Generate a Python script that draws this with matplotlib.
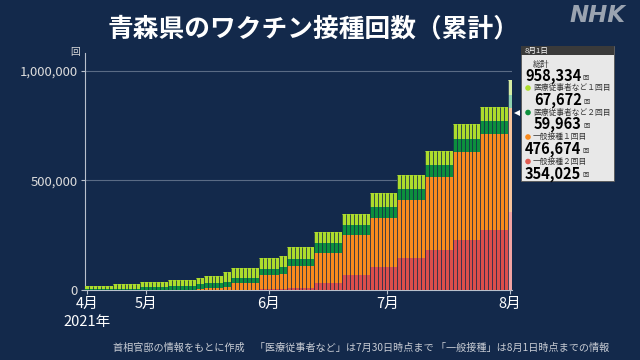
import numpy as np
import pandas as pd
import matplotlib
matplotlib.use('Agg')
import matplotlib.pyplot as plt
from matplotlib.patches import Rectangle, Polygon, Circle

plt.rcParams['font.family'] = ['Noto Sans CJK JP', 'DejaVu Sans']

# daily bars from 2021-04-16, values reported in steps (days per step)
start_date = '2021-04-16'
run_days = [7, 7, 7, 7, 2, 5, 2, 7, 5, 2, 7, 7, 7, 7, 7, 7, 7, 7, 1]
# cumulative doses in thousands, one value per step
ippan_2 = [0, 0, 0, 0, 0, 0, 0, 1, 3, 4, 10, 30, 70, 107, 145, 183, 228, 274, 354.025]
ippan_1 = [0, 0, 0, 1, 3, 8, 15, 32, 65, 69, 100, 140, 181, 223, 266, 332, 402, 436, 476.674]
iryo_2 = [4, 6, 12, 17, 23, 23, 23, 24, 29, 34, 33, 43, 45, 49, 52, 54, 59, 60, 59.963]
iryo_1 = [14, 21, 25, 28, 29, 34, 43, 43, 48, 48, 53, 50, 50, 62, 62, 66, 68, 67, 67.672]

series_names = ['医療従事者など１回目', '医療従事者など２回目', '一般接種１回目', '一般接種２回目']
last_values = [67672, 59963, 476674, 354025]
month_labels = ['4月', '5月', '6月', '7月', '8月']
month_dates = ['2021-04-16', '2021-05-01', '2021-06-01', '2021-07-01', '2021-08-01']

BG = '#13294b'
c_red, c_orange = '#dc4e4b', '#f98a1d'
c_dgreen, c_lgreen = '#0c8f3d', '#addc2c'
hl = ['#f2a3a3', '#f7c49c', '#8ed1ae', '#d6eca2']  # last bar highlight

dates = pd.date_range(start_date, periods=sum(run_days), freq='D')
red = np.repeat(ippan_2, run_days) * 1000
orange = np.repeat(ippan_1, run_days) * 1000
dg = np.repeat(iryo_2, run_days) * 1000
lg = np.repeat(iryo_1, run_days) * 1000

fig = plt.figure(figsize=(6.4, 3.6), dpi=100)
fig.patch.set_facecolor(BG)
ax = fig.add_axes([85 / 640, 70 / 360, 427 / 640, 237 / 360])
ax.set_facecolor(BG)

x = np.arange(len(dates))
cols = [c_red, c_orange, c_dgreen, c_lgreen]
bottom = np.zeros(len(x))
for i, vals in enumerate([red, orange, dg, lg]):
    colors = [cols[i]] * (len(x) - 1) + [hl[i]]
    ax.bar(x, vals, 1.0, bottom=bottom, color=colors, linewidth=0, zorder=3)
    bottom = bottom + vals

# thin dark separators between daily bars
sep_top = np.maximum(bottom[:-1], bottom[1:])
ax.vlines(x[:-1] + 0.5, 0, sep_top, color=BG, alpha=0.85, linewidth=0.65, zorder=4)

ax.set_xlim(-0.5, len(x) - 0.5)
ax.set_ylim(0, 1082000)
ax.set_yticks([0, 500000, 1000000])
ax.set_yticklabels(['0', '500,000', '1,000,000'], fontsize=9.5)
ax.yaxis.grid(True, color='#5a6b85', linewidth=0.8, zorder=0)
ticks = [dates.get_loc(pd.Timestamp(d)) for d in month_dates]
ax.set_xticks(ticks)
ax.set_xticklabels(month_labels, fontsize=10.5)
ax.tick_params(axis='both', colors='#b8c0cc', length=3, width=0.8, pad=2)
ax.tick_params(axis='x', labelcolor='white')
ax.tick_params(axis='y', labelcolor='#dcdcdc')
for s in ['top', 'right']:
    ax.spines[s].set_visible(False)
ax.spines['left'].set_color('#b8c0cc')
ax.spines['bottom'].set_color('#b8c0cc')

# overlay in pixel coordinates for text and tooltip
ov = fig.add_axes([0, 0, 1, 1], facecolor='none')
ov.set_xlim(0, 640)
ov.set_ylim(360, 0)
ov.axis('off')

ov.text(314, 29, '青森県のワクチン接種回数（累計）', color='white', fontsize=18.5,
        fontweight='bold', ha='center', va='center')
ov.text(598, 15, 'NHK', color='#9aa3b0', fontsize=16.5, fontweight='heavy',
        style='italic', family='DejaVu Sans', ha='center', va='center')
ov.text(75, 52, '回', color='#dcdcdc', fontsize=7, ha='center', va='center')
ov.text(87, 322, '2021年', color='white', fontsize=10.5, ha='center', va='center')
ov.text(113, 348, '首相官邸の情報をもとに作成　「医療従事者など」は7月30日時点まで 「一般接種」は8月1日時点までの情報',
        color='#c8ccd4', fontsize=7.3, ha='left', va='center')

# tooltip
ov.add_patch(Rectangle((521, 46), 93, 135, facecolor='#e8e8e8', edgecolor='#555555', linewidth=0.6))
ov.add_patch(Rectangle((521, 46), 93, 9, facecolor='#3a3a3a', edgecolor='none'))
ov.text(525, 50.5, '8月1日', color='white', fontsize=5.5, va='center')
ov.add_patch(Polygon([[514, 113], [520, 110], [520, 116]], closed=True, facecolor='white', edgecolor='none'))
ov.text(533, 64, '総計', color='#333333', fontsize=6, va='center')


def value_text(xx, yy, val):
    t = ov.text(xx, yy, f'{val:,}', color='black', fontsize=10.5, fontweight='bold', va='center')
    ov.annotate('回', xy=(1, 0.15), xycoords=t, xytext=(1, 0), textcoords='offset points',
                color='#333333', fontsize=4.5, va='bottom', ha='left')


value_text(525, 76, sum(last_values))

dot_cols = [c_lgreen, c_dgreen, c_orange, '#e05a50']
for k in range(4):
    yy = 88 + k * 24.5
    ov.add_patch(Circle((528, yy), 2.8, facecolor=dot_cols[k], edgecolor='none'))
    ov.text(533, yy, series_names[k], color='#333333', fontsize=5.6, va='center')
    value_text(534 if k < 2 else 525, yy + 12, last_values[k])

fig.savefig('out.png', dpi=100, facecolor=BG)
